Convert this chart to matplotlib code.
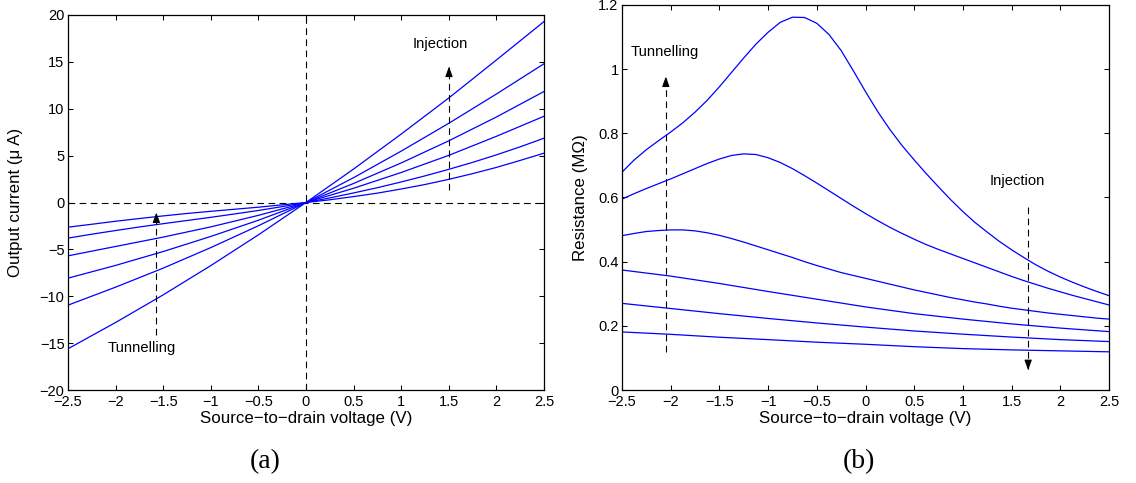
import matplotlib
matplotlib.use("Agg")
import matplotlib.pyplot as plt
from matplotlib.ticker import FuncFormatter, MultipleLocator

plt.rcParams['font.family'] = ['Liberation Sans', 'DejaVu Sans']

# ---------------- data ----------------
# (a) output current (uA) vs source-to-drain voltage (V)
V_a = [-2.5, -2.0, -1.5, -1.0, -0.5, 0.0, 0.5, 1.0, 1.5, 2.0, 2.5]
I_A = [-15.6, -12.8, -9.85, -6.73, -3.45, 0, 3.57, 7.30, 11.15, 15.2, 19.3]
I_B = [-10.95, -9.03, -7.00, -4.81, -2.48, 0, 2.65, 5.48, 8.45, 11.57, 14.80]
I_C = [-8.07, -6.71, -5.23, -3.62, -1.89, 0, 2.03, 4.22, 6.58, 9.12, 11.84]
I_D = [-5.69, -4.69, -3.69, -2.60, -1.37, 0, 1.52, 3.20, 5.03, 7.06, 9.20]
V_a_fine = [-2.5, -2.25, -2.0, -1.75, -1.5, -1.25, -1.0, -0.75, -0.5, -0.25, 0.0,
            0.25, 0.5, 0.75, 1.0, 1.25, 1.5, 1.75, 2.0, 2.25, 2.5]
I_E = [-3.80, -3.38, -2.99, -2.61, -2.26, -1.92, -1.58, -1.22, -0.85, -0.44, 0,
       0.49, 1.02, 1.58, 2.19, 2.84, 3.54, 4.28, 5.08, 5.94, 6.86]
I_F = [-2.63, -2.32, -2.00, -1.71, -1.43, -1.17, -0.94, -0.72, -0.50, -0.25, 0,
       0.29, 0.63, 1.00, 1.44, 1.92, 2.47, 3.08, 3.74, 4.49, 5.26]

# (b) resistance (MOhm) vs source-to-drain voltage (V)
V_fine = [-2.5, -2.375, -2.25, -2.125, -2.0, -1.875, -1.75, -1.625, -1.5, -1.375,
          -1.25, -1.125, -1.0, -0.875, -0.75, -0.625, -0.5, -0.375, -0.25, -0.125,
          0.0, 0.125, 0.25, 0.375, 0.5, 0.625, 0.75, 0.875, 1.0, 1.125,
          1.25, 1.375, 1.5, 1.625, 1.75, 1.875, 2.0, 2.125, 2.25, 2.375, 2.5]
R_1 = [0.679, 0.717, 0.749, 0.777, 0.804, 0.833, 0.866, 0.903, 0.945, 0.990,
       1.035, 1.078, 1.115, 1.146, 1.162, 1.161, 1.143, 1.108, 1.058, 0.995,
       0.930, 0.868, 0.812, 0.762, 0.717, 0.674, 0.633, 0.593, 0.556, 0.522,
       0.492, 0.463, 0.437, 0.413, 0.390, 0.370, 0.352, 0.336, 0.321, 0.307, 0.294]
R_2 = [0.595, 0.612, 0.628, 0.643, 0.658, 0.674, 0.690, 0.706, 0.720, 0.731,
       0.736, 0.734, 0.724, 0.709, 0.690, 0.668, 0.645, 0.621, 0.597, 0.573,
       0.550, 0.528, 0.507, 0.488, 0.470, 0.453, 0.438, 0.424, 0.410, 0.396,
       0.382, 0.368, 0.354, 0.341, 0.329, 0.317, 0.306, 0.295, 0.285, 0.275, 0.265]
R_3 = [0.481, 0.488, 0.494, 0.497, 0.499, 0.499, 0.496, 0.490, 0.482, 0.472,
       0.461, 0.449, 0.437, 0.425, 0.413, 0.400, 0.388, 0.377, 0.366, 0.357,
       0.348, 0.339, 0.330, 0.321, 0.312, 0.304, 0.296, 0.288, 0.281, 0.274,
       0.268, 0.261, 0.255, 0.250, 0.245, 0.240, 0.236, 0.232, 0.228, 0.224, 0.221]
V_coarse = [-2.5, -2.0, -1.5, -1.0, -0.5, 0.0, 0.5, 1.0, 1.5, 2.0, 2.5]
R_4 = [0.374, 0.355, 0.332, 0.307, 0.283, 0.259, 0.238, 0.221, 0.206, 0.193, 0.182]
R_5 = [0.270, 0.254, 0.238, 0.223, 0.209, 0.196, 0.184, 0.174, 0.165, 0.157, 0.151]
R_6 = [0.181, 0.1735, 0.1645, 0.157, 0.149, 0.1425, 0.135, 0.129, 0.125, 0.122, 0.119]

xlabel = "Source\u2212to\u2212drain voltage (V)"

# ---------------- figure ----------------
W, H = 1136, 483
fig = plt.figure(figsize=(W / 100, H / 100), dpi=100)

def px_axes(l, t, r, b):
    return fig.add_axes([l / W, 1 - b / H, (r - l) / W, (b - t) / H])

axA = px_axes(68, 15, 544, 390)
axB = px_axes(622, 5, 1109, 390)

fmt = FuncFormatter(lambda v, p: ('%g' % v).replace('-', '\u2212'))
blue = '#0000ff'

def style(ax):
    ax.set_xlim(-2.5, 2.5)
    ax.xaxis.set_major_locator(MultipleLocator(0.5))
    ax.xaxis.set_major_formatter(fmt)
    ax.yaxis.set_major_formatter(fmt)
    ax.tick_params(direction='in', top=True, right=True, length=3.5, width=0.75,
                   labelsize=10.5, colors='black')
    ax.tick_params(axis='x', pad=3.5)
    ax.tick_params(axis='y', pad=2.5)
    for s in ax.spines.values():
        s.set_linewidth(0.9)

def dashed_arrow(ax, x, y0, y1, head_len):
    ax.plot([x, x], [y0, y1], color='k', lw=0.8, dashes=(6, 4))
    ax.annotate('', xy=(x, y1), xytext=(x, y1 - head_len),
                arrowprops=dict(arrowstyle='-|>,head_length=0.6,head_width=0.22',
                                color='k', lw=0.8, shrinkA=0, shrinkB=0))

# (a)
style(axA)
axA.set_ylim(-20, 20)
axA.yaxis.set_major_locator(MultipleLocator(5))
axA.axhline(0, color='k', lw=0.8, dashes=(6, 4))
axA.axvline(0, color='k', lw=0.8, dashes=(6, 4))
for I in (I_A, I_B, I_C, I_D):
    axA.plot(V_a, I, color=blue, lw=0.9)
for I in (I_E, I_F):
    axA.plot(V_a_fine, I, color=blue, lw=0.9)
dashed_arrow(axA, 1.502, 1.35, 14.5, 0.6)
dashed_arrow(axA, -1.572, -14.1, -1.07, 0.6)
axA.text(1.41, 16.9, 'Injection', ha='center', va='center', fontsize=10.6)
axA.text(-1.73, -15.5, 'Tunnelling', ha='center', va='center', fontsize=10.6)
axA.set_xlabel(xlabel, fontsize=12.2)
axA.set_ylabel('Output current (\u03bc A)', fontsize=12.2)
axA.xaxis.set_label_coords(0.5, (390 - 419) / 375)
axA.xaxis.label.set_va('center')
axA.yaxis.set_label_coords((16 - 68) / 476, 0.5)
axA.yaxis.label.set_va('center')

# (b)
style(axB)
axB.set_ylim(0, 1.2)
axB.yaxis.set_major_locator(MultipleLocator(0.2))
for R in (R_1, R_2, R_3):
    axB.plot(V_fine, R, color=blue, lw=0.9)
for R in (R_4, R_5, R_6):
    axB.plot(V_coarse, R, color=blue, lw=0.9)
dashed_arrow(axB, -2.05, 0.119, 0.977, 0.02)
dashed_arrow(axB, 1.67, 0.571, 0.062, -0.02)
axB.text(-2.06, 1.055, 'Tunnelling', ha='center', va='center', fontsize=10.6)
axB.text(1.555, 0.651, 'Injection', ha='center', va='center', fontsize=10.6)
axB.set_xlabel(xlabel, fontsize=12.2)
axB.set_ylabel('Resistance (M\u03a9)', fontsize=12.2)
axB.xaxis.set_label_coords(0.5, (390 - 419) / 385)
axB.xaxis.label.set_va('center')
axB.yaxis.set_label_coords((581 - 622) / 487, 0.5)
axB.yaxis.label.set_va('center')

fig.text(265.5 / W, 1 - 462 / H, '(a)', ha='center', va='center',
         fontsize=20, family='Liberation Serif')
fig.text(859 / W, 1 - 462 / H, '(b)', ha='center', va='center',
         fontsize=20, family='Liberation Serif')

fig.savefig('out.png', dpi=100)
